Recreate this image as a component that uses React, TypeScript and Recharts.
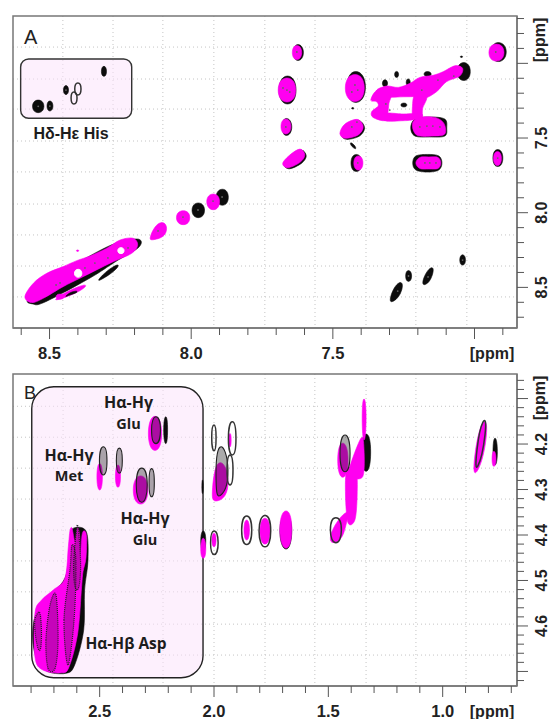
import React from "react";
import {
  ScatterChart,
  Scatter,
  XAxis,
  YAxis,
  CartesianGrid,
  ReferenceArea,
} from "recharts";

type Blob = number[][];

// panel A, every outline is a contour in ppm (F2, F1)
const aXTicks = [8.6, 8.5, 8.4, 8.3, 8.2, 8.1, 8.0, 7.9, 7.8, 7.7, 7.6, 7.5, 7.4, 7.3, 7.2, 7.1, 7.0, 6.9];
const aYTicks = [6.7, 6.8, 6.9, 7.0, 7.1, 7.2, 7.3, 7.4, 7.5, 7.6, 7.7, 7.8, 7.9, 8.0, 8.1, 8.2, 8.3, 8.4, 8.5, 8.6, 8.7];
const aXMajor = [8.5, 8.0, 7.5, 7.0];
const aYMajor = [7.0, 7.5, 8.0, 8.5];
const aXLabels = [8.5, 8.0, 7.5];
const aYLabels = [7.5, 8.0, 8.5];
const aGridX = [8.453, 8.276, 8.1, 7.92, 7.74, 7.563, 7.383, 7.207, 7.027];
const aGridY = [6.891, 7.105, 7.306, 7.52, 7.727, 7.942, 8.149, 8.357, 8.564];

const aBlack: Blob[] = [
  [[7.638, 6.928], [7.623, 6.874], [7.604, 6.928], [7.623, 6.981]],
  [[6.94, 6.924], [6.916, 6.861], [6.888, 6.924], [6.916, 6.988]],
  [[7.69, 7.179], [7.66, 7.085], [7.63, 7.179], [7.66, 7.272]],
  [[7.45, 7.159], [7.419, 7.055], [7.385, 7.159], [7.419, 7.262]],
  [[7.678, 7.426], [7.664, 7.369], [7.645, 7.426], [7.664, 7.483]],
  [[7.47, 7.475], [7.452, 7.413], [7.409, 7.382], [7.388, 7.431], [7.406, 7.487], [7.452, 7.509]],
  [[7.672, 7.677], [7.647, 7.621], [7.611, 7.581], [7.594, 7.621], [7.611, 7.67], [7.653, 7.706]],
  [[7.436, 7.667], [7.417, 7.61], [7.398, 7.667], [7.417, 7.724]],
  [[7.218, 7.667], [7.207, 7.62], [7.165, 7.61], [7.126, 7.62], [7.115, 7.667], [7.126, 7.714], [7.165, 7.728], [7.207, 7.714]],
  [[6.935, 7.634], [6.918, 7.577], [6.9, 7.634], [6.918, 7.691]],
  [[7.061, 7.055], [7.038, 6.995], [7.015, 7.055], [7.038, 7.115]],
  [[7.225, 7.433], [7.21, 7.373], [7.158, 7.359], [7.105, 7.373], [7.098, 7.433], [7.105, 7.487], [7.158, 7.493], [7.21, 7.487]],
  [[7.438, 7.537], [7.429, 7.54], [7.419, 7.567], [7.428, 7.564]],
  [[7.282, 7.074], [7.275, 7.054], [7.268, 7.074], [7.275, 7.094]],
  [[7.178, 7.072], [7.166, 7.055], [7.153, 7.072], [7.166, 7.088]],
  [[7.241, 7.127], [7.234, 7.104], [7.227, 7.127], [7.234, 7.151]],
  [[7.325, 7.134], [7.316, 7.11], [7.307, 7.134], [7.316, 7.157]],
  [[7.26, 7.279], [7.249, 7.266], [7.239, 7.279], [7.249, 7.292]],
  [[7.05, 6.956], [7.046, 6.951], [7.042, 6.956], [7.046, 6.961]],
  [[7.434, 7.301], [7.43, 7.296], [7.426, 7.301], [7.43, 7.306]],
  [[8.576, 8.578], [8.499, 8.45], [8.297, 8.229], [8.192, 8.176], [8.184, 8.229], [8.269, 8.33], [8.357, 8.437], [8.516, 8.598], [8.559, 8.611]],
  [[8.322, 8.437], [8.276, 8.363], [8.262, 8.37], [8.308, 8.437]],
  [[7.997, 7.984], [7.975, 7.935], [7.953, 7.984], [7.975, 8.033]],
  [[7.912, 7.897], [7.89, 7.843], [7.869, 7.897], [7.89, 7.95]],
  [[7.295, 8.557], [7.267, 8.471], [7.257, 8.517], [7.285, 8.591]],
  [[7.243, 8.424], [7.233, 8.387], [7.222, 8.424], [7.233, 8.46]],
  [[7.18, 8.444], [7.154, 8.37], [7.149, 8.417], [7.172, 8.479]],
  [[7.052, 8.317], [7.042, 8.282], [7.032, 8.317], [7.042, 8.351]],
  [[8.56, 7.288], [8.54, 7.246], [8.52, 7.288], [8.54, 7.33]],
  [[8.509, 7.286], [8.499, 7.252], [8.488, 7.286], [8.499, 7.319]],
  [[8.451, 7.179], [8.442, 7.149], [8.433, 7.179], [8.442, 7.209]],
  [[8.317, 7.054], [8.308, 7.02], [8.299, 7.054], [8.308, 7.087]],
];

const aRings: Blob[] = [
  [[8.411, 7.172], [8.4, 7.132], [8.389, 7.172], [8.4, 7.212]],
  [[8.424, 7.232], [8.414, 7.192], [8.403, 7.232], [8.414, 7.272]],
];

const aMagenta: Blob[] = [
  [[7.643, 6.928], [7.627, 6.881], [7.61, 6.928], [7.627, 6.975]],
  [[6.949, 6.928], [6.923, 6.871], [6.896, 6.928], [6.923, 6.985]],
  [[7.693, 7.179], [7.662, 7.098], [7.631, 7.179], [7.662, 7.259]],
  [[7.456, 7.165], [7.422, 7.075], [7.389, 7.165], [7.422, 7.256]],
  [[7.683, 7.423], [7.666, 7.373], [7.648, 7.423], [7.666, 7.473]],
  [[7.475, 7.468], [7.457, 7.406], [7.414, 7.375], [7.393, 7.424], [7.411, 7.48], [7.457, 7.502]],
  [[7.677, 7.67], [7.652, 7.614], [7.616, 7.574], [7.599, 7.614], [7.616, 7.663], [7.658, 7.699]],
  [[7.426, 7.667], [7.41, 7.62], [7.394, 7.667], [7.41, 7.714]],
  [[7.207, 7.667], [7.193, 7.63], [7.161, 7.627], [7.129, 7.63], [7.119, 7.667], [7.129, 7.704], [7.161, 7.707], [7.193, 7.704]],
  [[6.933, 7.637], [6.919, 7.59], [6.905, 7.637], [6.919, 7.684]],
  [[7.346, 7.183], [7.31, 7.152], [7.269, 7.161], [7.228, 7.134], [7.193, 7.094], [7.146, 7.08], [7.111, 7.056], [7.069, 7.016], [7.042, 7.033], [7.052, 7.085], [7.099, 7.123], [7.134, 7.19], [7.175, 7.234], [7.204, 7.224], [7.252, 7.224], [7.31, 7.224]],
  [[7.366, 7.246], [7.343, 7.179], [7.293, 7.19], [7.302, 7.268], [7.306, 7.335], [7.316, 7.384], [7.358, 7.362], [7.363, 7.324], [7.34, 7.286], [7.346, 7.257]],
  [[7.316, 7.335], [7.252, 7.339], [7.216, 7.335], [7.187, 7.335], [7.187, 7.368], [7.222, 7.38], [7.252, 7.384], [7.316, 7.384]],
  [[7.21, 7.212], [7.169, 7.224], [7.183, 7.301], [7.187, 7.362], [7.216, 7.362], [7.219, 7.29]],
  [[7.219, 7.402], [7.193, 7.362], [7.14, 7.362], [7.108, 7.402], [7.105, 7.473], [7.146, 7.487], [7.204, 7.48]],
  [[8.587, 8.562], [8.557, 8.472], [8.51, 8.406], [8.452, 8.361], [8.404, 8.321], [8.357, 8.29], [8.298, 8.238], [8.251, 8.183], [8.205, 8.171], [8.189, 8.216], [8.21, 8.272], [8.275, 8.328], [8.334, 8.383], [8.393, 8.439], [8.452, 8.495], [8.522, 8.573], [8.563, 8.602]],
  [[8.474, 8.571], [8.4, 8.497], [8.379, 8.504], [8.442, 8.564]],
  [[8.477, 8.562], [8.463, 8.545], [8.449, 8.562], [8.463, 8.579]],
  [[8.405, 8.254], [8.401, 8.249], [8.397, 8.254], [8.401, 8.259]],
  [[8.142, 8.149], [8.107, 8.067], [8.089, 8.129], [8.128, 8.179]],
  [[8.052, 8.033], [8.028, 7.987], [8.005, 8.033], [8.028, 8.08]],
  [[7.945, 7.926], [7.922, 7.875], [7.9, 7.926], [7.922, 7.98]],
];

const aHoles: Blob[] = [
  [[8.412, 8.406], [8.399, 8.379], [8.386, 8.406], [8.399, 8.432]],
  [[8.259, 8.254], [8.248, 8.234], [8.237, 8.254], [8.248, 8.274]],
];

const aOver: Blob[] = [
  [[8.442, 8.558], [8.421, 8.531], [8.403, 8.531], [8.428, 8.551]],
];

const aSpecks = [
  [7.662, 7.179], [7.676, 7.165], [7.652, 7.192], [7.422, 7.145], [7.412, 7.179], [7.433, 7.192],
  [7.627, 6.924], [6.925, 6.924], [7.666, 7.426], [7.433, 7.426], [7.415, 7.393], [7.412, 7.667],
  [6.918, 7.634], [7.175, 7.667], [7.158, 7.667], [7.136, 7.667], [7.193, 7.426], [7.168, 7.42],
  [7.147, 7.42], [7.122, 7.426], [7.299, 7.313], [7.313, 7.272], [7.186, 7.179], [7.129, 7.112],
  [7.073, 7.085], [8.463, 8.47], [8.477, 8.484], [8.375, 8.37], [8.34, 8.337], [8.294, 8.303],
  [8.223, 8.236], [8.117, 8.122], [8.029, 8.029], [7.923, 7.922], [8.54, 7.288], [8.499, 7.286],
  [8.442, 7.179], [7.271, 8.525], [7.164, 8.43], [7.233, 8.424], [7.042, 8.317], [7.976, 7.982], [7.891, 7.895],
];

// panel B
const bXTicks = [2.8, 2.7, 2.6, 2.5, 2.4, 2.3, 2.2, 2.1, 2.0, 1.9, 1.8, 1.7, 1.6, 1.5, 1.4, 1.3, 1.2, 1.1, 1.0, 0.9, 0.8, 0.7];
const bYTicks = [4.06, 4.08, 4.1, 4.12, 4.14, 4.16, 4.18, 4.2, 4.22, 4.24, 4.26, 4.28, 4.3, 4.32, 4.34, 4.36, 4.38, 4.4, 4.42, 4.44, 4.46, 4.48, 4.5, 4.52, 4.54, 4.56, 4.58, 4.6, 4.62, 4.64, 4.66, 4.68, 4.7, 4.72];
const bXMajor = [2.5, 2.0, 1.5, 1.0];
const bYMajor = [4.1, 4.2, 4.3, 4.4, 4.5, 4.6, 4.7];
const bXLabels = [2.5, 2.0, 1.5, 1.0];
const bYLabels = [4.2, 4.3, 4.4, 4.5, 4.6];
const bGridX = [2.66, 2.442, 2.223, 2.0, 1.777, 1.559, 1.335, 1.117, 0.898];
const bGridY = [4.117, 4.185, 4.253, 4.321, 4.389, 4.457, 4.525, 4.596, 4.664];

const bBlack: Blob[] = [
  [[2.787, 4.587], [2.739, 4.543], [2.652, 4.495], [2.63, 4.422], [2.621, 4.387], [2.56, 4.391], [2.551, 4.455], [2.566, 4.521], [2.57, 4.609], [2.608, 4.684], [2.647, 4.704], [2.739, 4.697], [2.787, 4.653]],
  [[2.22, 4.169], [2.211, 4.14], [2.203, 4.169], [2.211, 4.199]],
  [[2.058, 4.413], [2.047, 4.391], [2.036, 4.413], [2.047, 4.435]],
  [[1.712, 4.391], [1.685, 4.358], [1.66, 4.391], [1.685, 4.431]],
  [[1.357, 4.218], [1.335, 4.178], [1.315, 4.218], [1.335, 4.26]],
  [[0.78, 4.217], [0.771, 4.187], [0.761, 4.217], [0.771, 4.246]],
  [[2.053, 4.294], [2.05, 4.279], [2.047, 4.294], [2.05, 4.309]],
];

const bMagenta: Blob[] = [
  [[2.783, 4.572], [2.754, 4.543], [2.703, 4.521], [2.652, 4.495], [2.637, 4.426], [2.63, 4.391], [2.621, 4.385], [2.608, 4.415], [2.598, 4.385], [2.588, 4.4], [2.584, 4.446], [2.577, 4.4], [2.566, 4.391], [2.557, 4.405], [2.56, 4.451], [2.573, 4.481], [2.579, 4.514], [2.596, 4.616], [2.634, 4.69], [2.668, 4.703], [2.748, 4.697], [2.783, 4.668]],
  [[2.287, 4.177], [2.258, 4.139], [2.229, 4.177], [2.258, 4.214]],
  [[2.512, 4.272], [2.5, 4.243], [2.488, 4.272], [2.5, 4.301]],
  [[2.431, 4.271], [2.42, 4.246], [2.409, 4.271], [2.42, 4.295]],
  [[2.353, 4.301], [2.321, 4.27], [2.289, 4.301], [2.321, 4.332]],
  [[2.006, 4.295], [1.974, 4.241], [1.939, 4.29], [1.987, 4.325]],
  [[1.936, 4.191], [1.93, 4.177], [1.925, 4.191], [1.93, 4.206]],
  [[2.058, 4.431], [2.047, 4.407], [2.036, 4.431], [2.047, 4.451]],
  [[2.009, 4.411], [2.0, 4.396], [1.991, 4.411], [2.0, 4.426]],
  [[1.869, 4.389], [1.857, 4.367], [1.845, 4.389], [1.857, 4.411]],
  [[1.799, 4.391], [1.777, 4.363], [1.755, 4.391], [1.777, 4.42]],
  [[1.712, 4.387], [1.685, 4.347], [1.66, 4.387], [1.685, 4.429]],
  [[1.489, 4.4], [1.427, 4.352], [1.423, 4.378], [1.458, 4.413]],
  [[1.425, 4.312], [1.419, 4.257], [1.379, 4.257], [1.374, 4.312], [1.384, 4.367], [1.414, 4.373]],
  [[1.41, 4.257], [1.357, 4.187], [1.344, 4.213], [1.349, 4.271], [1.397, 4.273]],
  [[1.459, 4.235], [1.437, 4.198], [1.414, 4.235], [1.437, 4.273]],
  [[1.352, 4.143], [1.344, 4.101], [1.335, 4.143], [1.344, 4.191]],
  [[0.859, 4.224], [0.824, 4.154], [0.811, 4.191], [0.85, 4.26]],
  [[0.784, 4.233], [0.776, 4.216], [0.767, 4.233], [0.776, 4.249]],
];

const bRings: Blob[] = [
  [[2.01, 4.186], [2.0, 4.158], [1.991, 4.186], [2.0, 4.215]],
  [[1.937, 4.188], [1.92, 4.151], [1.904, 4.188], [1.92, 4.224]],
  [[1.943, 4.257], [1.93, 4.224], [1.917, 4.257], [1.93, 4.29]],
  [[2.015, 4.417], [1.999, 4.391], [1.982, 4.417], [1.999, 4.443]],
  [[1.879, 4.389], [1.857, 4.358], [1.835, 4.389], [1.857, 4.421]],
  [[1.803, 4.391], [1.777, 4.357], [1.752, 4.391], [1.777, 4.426]],
  [[1.491, 4.389], [1.467, 4.362], [1.443, 4.389], [1.467, 4.417]],
  [[0.85, 4.213], [0.824, 4.152], [0.815, 4.18], [0.846, 4.248]],
];

const bDense: Blob[] = [
  [[2.273, 4.169], [2.254, 4.14], [2.234, 4.169], [2.254, 4.199]],
  [[2.501, 4.237], [2.484, 4.206], [2.468, 4.237], [2.484, 4.268]],
  [[2.427, 4.237], [2.414, 4.209], [2.401, 4.237], [2.414, 4.264]],
  [[2.34, 4.29], [2.316, 4.253], [2.292, 4.29], [2.316, 4.328]],
  [[2.284, 4.285], [2.273, 4.254], [2.261, 4.285], [2.273, 4.316]],
  [[1.991, 4.279], [1.974, 4.207], [1.939, 4.257], [1.97, 4.312]],
  [[1.449, 4.221], [1.427, 4.18], [1.405, 4.221], [1.427, 4.261]],
];

const bMesh: Blob[] = [
  [[2.735, 4.631], [2.717, 4.554], [2.691, 4.532], [2.682, 4.631], [2.695, 4.693], [2.726, 4.693]],
  [[2.656, 4.587], [2.63, 4.477], [2.621, 4.422], [2.604, 4.455], [2.612, 4.587], [2.639, 4.686]],
  [[2.612, 4.499], [2.604, 4.4], [2.591, 4.4], [2.586, 4.499]],
  [[2.783, 4.609], [2.774, 4.574], [2.757, 4.587], [2.761, 4.653]],
];

const ppmColor = "#ff00f0";
const axisColor = "#777";

const smoothPath = (pts: { x: number; y: number }[]) => {
  const n = pts.length;
  const k = n <= 4 ? 0.3 : 0.167;
  let d = `M${pts[0].x},${pts[0].y}`;
  for (let i = 0; i < n; i++) {
    const p0 = pts[(i - 1 + n) % n];
    const p1 = pts[i];
    const p2 = pts[(i + 1) % n];
    const p3 = pts[(i + 2) % n];
    d += `C${p1.x + (p2.x - p0.x) * k},${p1.y + (p2.y - p0.y) * k} ${p2.x - (p3.x - p1.x) * k},${p2.y - (p3.y - p1.y) * k} ${p2.x},${p2.y}`;
  }
  return d + "Z";
};

const noMark = () => null;

const drawBlobs = (blobs: Blob[], style: any, name: string) =>
  blobs.map((b, i) => (
    <Scatter
      key={name + i}
      data={b.map(([x, y]) => ({ x, y }))}
      isAnimationActive={false}
      shape={noMark}
      line={(props: any) => <path d={smoothPath(props.points)} {...style} />}
    />
  ));

const solidMagenta = { fill: ppmColor, stroke: ppmColor, strokeWidth: 0.6 };
const solidBlack = { fill: "#0c0c0c", stroke: "#0c0c0c", strokeWidth: 0.6 };
const blackRing = { fill: "none", stroke: "#333", strokeWidth: 1.5 };
const denseRing = { fill: "#222", fillOpacity: 0.38, stroke: "#222", strokeWidth: 1.1 };
const meshRing = { fill: "#301030", fillOpacity: 0.28, stroke: "#222", strokeWidth: 1.2, strokeDasharray: "1 1" };
const whiteHole = { fill: "#fff", stroke: "#fff" };

const xTick = (major: number[], labels: number[]) => (props: any) => {
  const v = props.payload.value;
  return (
    <g>
      <line x1={props.x} x2={props.x} y1={props.y} y2={props.y + (major.includes(v) ? 11 : 7)} stroke="#555" strokeWidth={1} />
      {labels.includes(v) && (
        <text x={props.x} y={props.y + 31} textAnchor="middle" fontFamily="Liberation Sans" fontWeight="bold" fontSize={16.5} fill="#222">
          {v.toFixed(1)}
        </text>
      )}
    </g>
  );
};

const yTick = (major: number[], labels: number[]) => (props: any) => {
  const v = props.payload.value;
  const tx = props.x + 30;
  return (
    <g>
      <line x1={props.x} x2={props.x + (major.includes(v) ? 11 : 7)} y1={props.y} y2={props.y} stroke="#555" strokeWidth={1} />
      {labels.includes(v) && (
        <text x={tx} y={props.y} transform={`rotate(-90 ${tx} ${props.y})`} textAnchor="middle" fontFamily="Liberation Sans" fontWeight="bold" fontSize={16} fill="#222">
          {v.toFixed(1)}
        </text>
      )}
    </g>
  );
};

const note = { fontFamily: "Open Sans", fontWeight: "bold", fill: "#1c1c1c", textAnchor: "middle" } as const;
const ppmText = { fontFamily: "Liberation Sans", fontWeight: "bold", fontSize: 16, fill: "#222" } as const;

function PanelA() {
  const xDomain = [6.85, 8.629];
  const yDomain = [6.683, 8.772];
  return (
    <ScatterChart width={557} height={368} margin={{ top: 16, right: 0, bottom: 8, left: 13 }}>
      <CartesianGrid stroke="#c4c4c4" strokeDasharray="1 3" verticalValues={aGridX} horizontalValues={aGridY} />
      <XAxis type="number" dataKey="x" domain={xDomain} reversed allowDataOverflow ticks={aXTicks} interval={0} height={32} stroke={axisColor} strokeWidth={1.5} tickSize={0} tickMargin={0} tickLine={false} tick={xTick(aXMajor, aXLabels)} />
      <YAxis type="number" dataKey="y" domain={yDomain} reversed orientation="right" allowDataOverflow ticks={aYTicks} interval={0} width={40} stroke={axisColor} strokeWidth={1.5} tickSize={0} tickMargin={0} tickLine={false} tick={yTick(aYMajor, aYLabels)} />
      <ReferenceArea x1={xDomain[0]} x2={xDomain[1]} y1={yDomain[0]} y2={yDomain[1]} fill="none" stroke={axisColor} strokeWidth={1.5} />
      <ReferenceArea x1={8.602} x2={8.21} y1={6.971} y2={7.368} fill="#fbe4fb" fillOpacity={0.55} stroke="#333" strokeWidth={1.4} radius={8} />
      {drawBlobs(aBlack, solidBlack, "ak")}
      {drawBlobs(aRings, blackRing, "ar")}
      {drawBlobs(aMagenta, solidMagenta, "am")}
      {drawBlobs(aHoles, whiteHole, "ah")}
      {drawBlobs(aOver, solidBlack, "ao")}
      <Scatter
        data={aSpecks.map(([x, y]) => ({ x, y }))}
        isAnimationActive={false}
        shape={(p: any) => <circle cx={p.cx} cy={p.cy} r={0.9} fill="#666" />}
      />
    </ScatterChart>
  );
}

function PanelB() {
  const xDomain = [0.675, 2.879];
  const yDomain = [4.046, 4.732];
  return (
    <ScatterChart width={557} height={359} margin={{ top: 14, right: 0, bottom: 0, left: 13 }}>
      <CartesianGrid stroke="#c4c4c4" strokeDasharray="1 3" verticalValues={bGridX} horizontalValues={bGridY} />
      <XAxis type="number" dataKey="x" domain={xDomain} reversed allowDataOverflow ticks={bXTicks} interval={0} height={33} stroke={axisColor} strokeWidth={1.5} tickSize={0} tickMargin={0} tickLine={false} tick={xTick(bXMajor, bXLabels)} />
      <YAxis type="number" dataKey="y" domain={yDomain} reversed orientation="right" allowDataOverflow ticks={bYTicks} interval={0} width={40} stroke={axisColor} strokeWidth={1.5} tickSize={0} tickMargin={0} tickLine={false} tick={yTick(bYMajor, bYLabels)} />
      <ReferenceArea x1={xDomain[0]} x2={xDomain[1]} y1={yDomain[0]} y2={yDomain[1]} fill="none" stroke={axisColor} strokeWidth={1.5} />
      <ReferenceArea x1={2.797} x2={2.048} y1={4.074} y2={4.714} fill="#fbe4fb" fillOpacity={0.55} stroke="#222" strokeWidth={1.4} radius={22} />
      {drawBlobs(bBlack, solidBlack, "bk")}
      {drawBlobs(bMagenta, solidMagenta, "bm")}
      {drawBlobs(bDense, denseRing, "bd")}
      {drawBlobs(bRings, blackRing, "br")}
      {drawBlobs(bMesh, meshRing, "bs")}
    </ScatterChart>
  );
}

export default function App() {
  return (
    <div style={{ position: "absolute", left: 0, top: 0, width: 557, height: 719, background: "#fff" }}>
      <PanelA />
      <div style={{ position: "absolute", left: 0, top: 360 }}>
        <PanelB />
      </div>
      {/* annotations sit in a layer of their own so the shaded boxes do not wash them out */}
      <svg width={557} height={719} style={{ position: "absolute", left: 0, top: 0, pointerEvents: "none" }}>
        <text x={24} y={44} fontFamily="Liberation Sans" fontSize={20} fill="#222">A</text>
        <text x={71} y={139} {...note} fontFamily="Liberation Sans" fontSize={16}>Hδ-Hε His</text>
        <text x={492} y={359} textAnchor="middle" {...ppmText}>[ppm]</text>
        <text x={541} y={40} transform="rotate(-90 541 40)" textAnchor="middle" dominantBaseline="middle" {...ppmText}>[ppm]</text>
        <text x={24} y={399} fontFamily="Liberation Sans" fontSize={18} fill="#222">B</text>
        <text x={128.5} y={408} {...note} fontSize={16}>Hα-Hγ</text>
        <text x={128.5} y={429} {...note} fontSize={14.5}>Glu</text>
        <text x={69} y={461} {...note} fontSize={16}>Hα-Hγ</text>
        <text x={69} y={481} {...note} fontSize={14.5}>Met</text>
        <text x={145} y={524} {...note} fontSize={16}>Hα-Hγ</text>
        <text x={145} y={545} {...note} fontSize={14.5}>Glu</text>
        <text x={126} y={649} {...note} fontSize={15.5}>Hα-Hβ Asp</text>
        <text x={492} y={717} textAnchor="middle" {...ppmText}>[ppm]</text>
        <text x={541} y={398} transform="rotate(-90 541 398)" textAnchor="middle" dominantBaseline="middle" {...ppmText}>[ppm]</text>
      </svg>
    </div>
  );
}
